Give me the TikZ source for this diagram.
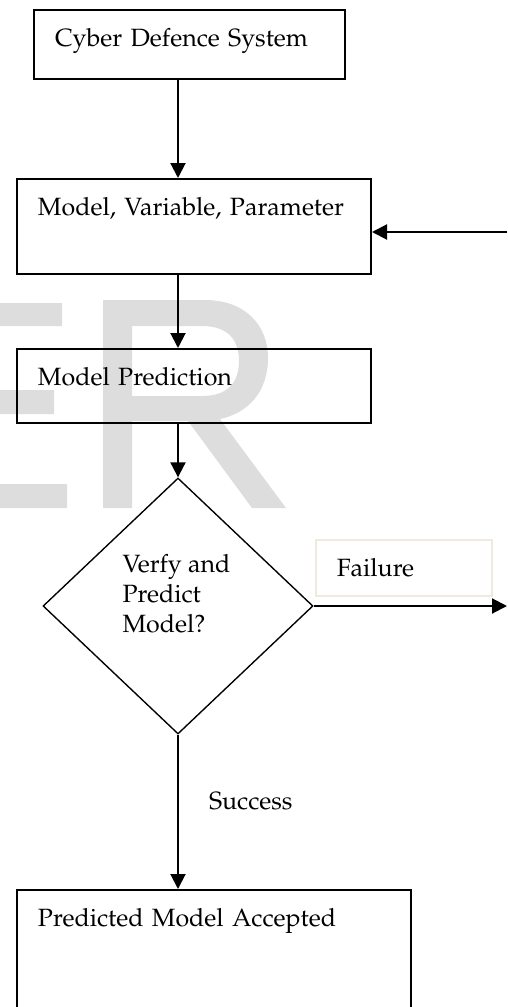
\documentclass[tikz,border=0pt]{standalone}
\usepackage[T1]{fontenc}
\usepackage{mathpazo}
\usetikzlibrary{arrows.meta,shapes.geometric}

\definecolor{markgray}{RGB}{221,221,221}
\definecolor{faintbox}{RGB}{238,234,222}

\begin{document}
\begin{tikzpicture}[x=0.4pt,y=-0.4pt,
  blk/.style={draw,line width=0.8pt,anchor=north west,inner xsep=8.4pt,
              inner ysep=7.6pt,text height=7pt,align=left,font=\normalsize},
  dec/.style={draw,diamond,line width=0.55pt,inner sep=0pt,
              minimum width=108pt,minimum height=102.4pt},
  qtxt/.style={anchor=north west,align=left,inner sep=0pt,
               font=\fontsize{10}{12}\selectfont},
  ar/.style={-{Triangle[length=6pt,width=6pt]},line width=0.8pt},
  lbl/.style={anchor=west,inner sep=0pt,xshift=12pt},
]
\clip (0,0) rectangle (507,1007);
% ============ background letters ============
\fill[markgray] (0,303) rectangle (62,326) (0,390) rectangle (54,414)
  (0,484) rectangle (67,508);
\fill[markgray,even odd rule]
  (103,508) -- (103,300) -- (205,300) .. controls (245,300) and (268,325) .. (268,358)
  .. controls (268,392) and (248,413) .. (220,419) -- (286,508) -- (252,508)
  -- (188,421) -- (132,421) -- (132,508) -- cycle
  (132,326) -- (202,326) .. controls (228,326) and (239,340) .. (239,361)
  .. controls (239,384) and (226,396) .. (202,396) -- (132,396) -- cycle;
% ============ main column ============
\node[blk,text width=107.6pt,text depth=5.4pt] (cds) at (33,9) {Cyber Defence System};
\node[blk,text width=124.8pt,text depth=15.8pt] (mvp) at (16,178) {Model, Variable, Parameter};
\node[blk,text width=124.8pt,text depth=7.4pt] (mpred) at (16,348) {Model Prediction};
\node[dec] (dec) at (178,606) {};
\node[qtxt] (qtxt) at (122,554) {Verfy and\\Predict\\Model?};
\node[blk,text width=140.8pt,text depth=33.8pt] (acc) at (16,889) {Predicted Model Accepted};
\node[blk,draw=faintbox,line width=0.6pt,text width=53.6pt,text depth=0.2pt]
  (fail) at (315,539) {Failure};
% ============ connectors ============
\coordinate (loopin) at (507,232);
\coordinate (failout) at (507,607);
\draw[ar] (cds.south -| dec) -- (mvp.north -| dec);
\draw[ar] (mvp.south -| dec) -- (mpred.north -| dec);
\draw[ar] (mpred.south -| dec) -- (dec.north);
\draw[ar] (dec.south) -- node[lbl,pos=.43] {Success} (acc.north -| dec);
\draw[ar] (dec.east) -- (dec.east -| failout);
\draw[ar] (loopin) -- (loopin -| mvp.east);
\end{tikzpicture}
\end{document}
